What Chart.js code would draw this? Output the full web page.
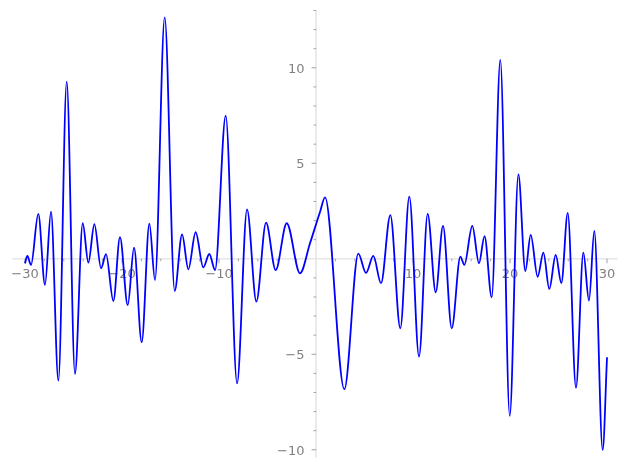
<!DOCTYPE html>
<html>
<head>
<meta charset="utf-8">
<script src="https://cdn.jsdelivr.net/npm/chart.js@4/dist/chart.umd.min.js"></script>
<style>
  html, body { margin: 0; padding: 0; background: #fff; }
  canvas { display: block; }
</style>
</head>
<body>
<canvas id="plot" width="627" height="469"></canvas>
<script>
// curve samples (mostly the turning points)
const xs = [
  -30.0, -29.76, -29.38, -28.63, -27.94, -27.32, -26.56, -25.70, -24.85, -24.05,
  -23.47, -22.85, -22.16, -21.65, -20.89, -20.21, -19.41, -18.76, -17.97, -17.18,
  -16.60, -15.60, -14.57, -13.81, -13.16, -12.41, -11.62, -11.00, -10.41, -9.31,
  -8.14, -7.11, -6.15, -5.15, -4.16, -3.02, -1.65, -0.62, 0.41, 0.93,
  2.92, 4.36, 5.15, 5.91, 6.70, 7.66, 8.69, 9.62, 10.62, 11.51,
  12.34, 13.09, 13.99, 14.88, 15.29, 16.11, 16.80, 17.37, 18.11, 19.00,
  19.97, 20.86, 21.58, 22.13, 22.85, 23.44, 24.05, 24.71, 25.29, 25.95,
  26.80, 27.56, 28.14, 28.69, 29.55, 30.0
]
const ys = [
  -0.24, 0.15, -0.32, 2.35, -1.37, 2.47, -6.38, 9.27, -6.03, 1.86,
  -0.20, 1.81, -0.50, 0.24, -2.21, 1.13, -2.43, 0.58, -4.37, 1.84,
  -1.11, 12.64, -1.69, 1.28, -0.55, 1.39, -0.45, 0.25, -0.59, 7.49,
  -6.52, 2.59, -2.24, 1.89, -0.59, 1.86, -0.76, 0.81, 2.45, 3.22,
  -6.83, 0.27, -0.74, 0.15, -1.28, 2.29, -3.64, 3.25, -5.12, 2.35,
  -1.76, 1.72, -3.64, 0.11, -0.32, 1.72, -0.24, 1.19, -2.02, 10.41,
  -8.23, 4.42, -0.64, 1.25, -0.94, 0.32, -1.58, 0.20, -1.28, 2.40,
  -6.75, 0.32, -2.19, 1.46, -10.01, -5.16
]

const xTickLabels = [-30, -20, -10, 10, 20, 30]
const yTickLabels = [-10, -5, 5, 10]
const xMinorTicks = [-30, -28, -26, -24, -22, -20, -18, -16, -14, -12, -10, -8, -6, -4, -2,
  2, 4, 6, 8, 10, 12, 14, 16, 18, 20, 22, 24, 26, 28, 30]
const yMinorTicks = [-10, -9, -8, -7, -6, -5, -4, -3, -2, -1,
  1, 2, 3, 4, 5, 6, 7, 8, 9, 10, 11, 12, 13]

const fmt = v => (v < 0 ? '\u2212' + Math.abs(v) : String(v))

// axes crossing at the origin, drawn under the curve
const originAxes = {
  id: 'originAxes',
  beforeDatasetsDraw (chart) {
    const { ctx, scales: { x, y } } = chart
    const x0 = x.getPixelForValue(0)
    const y0 = y.getPixelForValue(0)
    ctx.save()

    ctx.strokeStyle = '#e6e6e6'
    ctx.lineWidth = 1.6
    ctx.beginPath()
    ctx.moveTo(x.left, y0)
    ctx.lineTo(x.right, y0)
    ctx.moveTo(x0, y.top)
    ctx.lineTo(x0, y.bottom)
    ctx.stroke()

    ctx.strokeStyle = '#8a8a8a'
    ctx.lineWidth = 0.8
    ctx.beginPath()
    xMinorTicks.forEach(v => {
      const px = x.getPixelForValue(v)
      const len = xTickLabels.includes(v) ? 4.5 : 2.5
      ctx.moveTo(px, y0)
      ctx.lineTo(px, y0 + len)
    })
    yMinorTicks.forEach(v => {
      const py = y.getPixelForValue(v)
      const len = yTickLabels.includes(v) ? 4.5 : 2.5
      ctx.moveTo(x0, py)
      ctx.lineTo(x0 - len, py)
    })
    ctx.stroke()

    ctx.fillStyle = '#808080'
    ctx.font = '13px "DejaVu Sans"'
    ctx.textAlign = 'center'
    ctx.textBaseline = 'middle'
    xTickLabels.forEach(v => {
      ctx.fillText(fmt(v), x.getPixelForValue(v), y0 + 16)
    })
    ctx.textAlign = 'right'
    yTickLabels.forEach(v => {
      ctx.fillText(fmt(v), x0 - 11.5, y.getPixelForValue(v) + 1.5)
    })
    ctx.restore()
  }
}

new Chart(document.getElementById('plot'), {
  type: 'line',
  data: {
    datasets: [{
      data: xs.map((v, i) => ({ x: v, y: ys[i] })),
      borderColor: '#0000ff',
      borderWidth: 1.8,
      pointRadius: 0,
      fill: false,
      cubicInterpolationMode: 'monotone'
    }]
  },
  options: {
    responsive: false,
    devicePixelRatio: 1,
    animation: false,
    layout: {
      padding: { left: 12.4, right: 9.3, top: 10.5, bottom: 11.6 }
    },
    scales: {
      x: { type: 'linear', min: -31.3, max: 31.1, display: false },
      y: { type: 'linear', min: -10.4, max: 13.0, display: false }
    },
    plugins: {
      legend: { display: false },
      tooltip: { enabled: false }
    }
  },
  plugins: [originAxes]
})
</script>
</body>
</html>
